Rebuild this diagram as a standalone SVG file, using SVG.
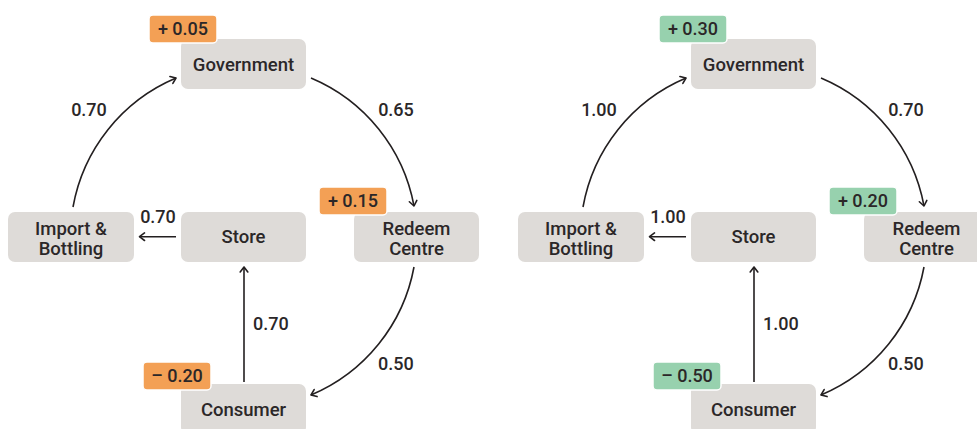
<svg xmlns="http://www.w3.org/2000/svg" width="977" height="429" viewBox="0 0 977 429">
  <style>
    .node rect { fill: #dedbd8; }
    .node text, .lbl, .badge text {
      font-family: Roboto, "Liberation Sans", sans-serif;
      font-weight: 500;
      font-size: 18px;
      fill: #2b2728;
      text-anchor: middle;
    }
    .node text { font-size: 18.5px; }
    .lbl.start { text-anchor: start; }
    .badge rect { stroke: #ffffff; stroke-width: 1.5; }
    .badge.up rect { fill: #f3a055; }
    .badge.eq rect { fill: #97d1ae; }
    .edges path { fill: none; stroke: #231f20; stroke-width: 1.6; marker-end: url(#tip); }
  </style>
  <defs>
    <marker id="tip" markerUnits="userSpaceOnUse" markerWidth="10" markerHeight="10" viewBox="0 0 10 10" refX="7" refY="5" orient="auto">
      <path d="M2,1.2 L7,5 L2,8.8" fill="none" stroke="#231f20" stroke-width="1.6" stroke-linecap="round" stroke-linejoin="round"/>
    </marker>
  </defs>

  <rect width="977" height="429" fill="#ffffff"/>

  <!-- Scenario A -->
  <g id="scenario-a">
    <g class="edges" id="edges-a">
      <path d="M73,207 A173,173 0 0 1 176,78"/>
      <path d="M311,78 A173,173 0 0 1 414,206"/>
      <path d="M414,267 A173,173 0 0 1 311,395"/>
      <path d="M244,382 L244,267"/>
      <path d="M176,236.7 L139.5,236.7"/>
      <text class="lbl" x="89" y="116">0.70</text>
      <text class="lbl" x="396" y="116">0.65</text>
      <text class="lbl" x="158" y="223">0.70</text>
      <text class="lbl start" x="253" y="330">0.70</text>
      <text class="lbl start" x="378" y="370">0.50</text>
    </g>
    <g class="node" id="a-government">
      <rect x="181" y="39" width="125" height="50" rx="7"/>
      <text x="243.5" y="71">Government</text>
    </g>
    <g class="node" id="a-import">
      <rect x="8" y="212" width="126" height="50" rx="7"/>
      <text x="71" y="235">Import &amp;</text>
      <text x="71" y="255">Bottling</text>
    </g>
    <g class="node" id="a-store">
      <rect x="181" y="212" width="125" height="50" rx="7"/>
      <text x="243.5" y="243">Store</text>
    </g>
    <g class="node" id="a-redeem">
      <rect x="354" y="212" width="125" height="50" rx="7"/>
      <text x="416.5" y="235">Redeem</text>
      <text x="416.5" y="255">Centre</text>
    </g>
    <g class="node" id="a-consumer">
      <rect x="181" y="384" width="125" height="50" rx="7"/>
      <text x="243.5" y="416">Consumer</text>
    </g>
    <g class="badge up" id="a-badge-government">
      <rect x="149" y="15" width="68" height="28" rx="4"/>
      <text x="183" y="34.5">+ 0.05</text>
    </g>
    <g class="badge up" id="a-badge-redeem">
      <rect x="319" y="187" width="68" height="28" rx="4"/>
      <text x="353" y="206.5">+ 0.15</text>
    </g>
    <g class="badge up" id="a-badge-consumer">
      <rect x="143" y="362" width="68" height="28" rx="4"/>
      <text x="177" y="381.5">– 0.20</text>
    </g>
  </g>

  <!-- Scenario B -->
  <g id="scenario-b" transform="translate(510,0)">
    <g class="edges" id="edges-b">
      <path d="M73,207 A173,173 0 0 1 176,78"/>
      <path d="M311,78 A173,173 0 0 1 414,206"/>
      <path d="M414,267 A173,173 0 0 1 311,395"/>
      <path d="M244,382 L244,267"/>
      <path d="M176,236.7 L139.5,236.7"/>
      <text class="lbl" x="89" y="116">1.00</text>
      <text class="lbl" x="396" y="116">0.70</text>
      <text class="lbl" x="158" y="223">1.00</text>
      <text class="lbl start" x="253" y="330">1.00</text>
      <text class="lbl start" x="378" y="370">0.50</text>
    </g>
    <g class="node" id="b-government">
      <rect x="181" y="39" width="125" height="50" rx="7"/>
      <text x="243.5" y="71">Government</text>
    </g>
    <g class="node" id="b-import">
      <rect x="8" y="212" width="126" height="50" rx="7"/>
      <text x="71" y="235">Import &amp;</text>
      <text x="71" y="255">Bottling</text>
    </g>
    <g class="node" id="b-store">
      <rect x="181" y="212" width="125" height="50" rx="7"/>
      <text x="243.5" y="243">Store</text>
    </g>
    <g class="node" id="b-redeem">
      <rect x="354" y="212" width="125" height="50" rx="7"/>
      <text x="416.5" y="235">Redeem</text>
      <text x="416.5" y="255">Centre</text>
    </g>
    <g class="node" id="b-consumer">
      <rect x="181" y="384" width="125" height="50" rx="7"/>
      <text x="243.5" y="416">Consumer</text>
    </g>
    <g class="badge eq" id="b-badge-government">
      <rect x="149" y="15" width="68" height="28" rx="4"/>
      <text x="183" y="34.5">+ 0.30</text>
    </g>
    <g class="badge eq" id="b-badge-redeem">
      <rect x="319" y="187" width="68" height="28" rx="4"/>
      <text x="353" y="206.5">+ 0.20</text>
    </g>
    <g class="badge eq" id="b-badge-consumer">
      <rect x="143" y="362" width="68" height="28" rx="4"/>
      <text x="177" y="381.5">– 0.50</text>
    </g>
  </g>
</svg>
